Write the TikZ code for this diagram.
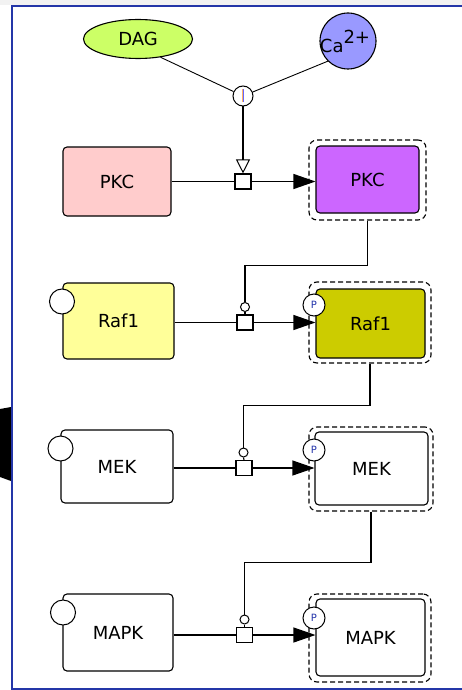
\documentclass[tikz,border=0pt]{standalone}
\usepackage{fontspec}
\setmainfont{DejaVu Sans}
\usetikzlibrary{arrows.meta,shapes.geometric}

\definecolor{dagfill}{HTML}{CCFF66}
\definecolor{cafill}{HTML}{9999FF}
\definecolor{pkcfill}{HTML}{FFCCCC}
\definecolor{pkcactive}{HTML}{CC66FF}
\definecolor{raffill}{HTML}{FFFF99}
\definecolor{rafactive}{HTML}{CCCC00}
\definecolor{frameblue}{HTML}{2436A8}
\definecolor{pblue}{HTML}{2233AA}

\tikzset{
  species/.style={draw, line width=1.1pt, rounded corners=4pt, inner sep=0pt},
  complexframe/.style={draw, line width=1.1pt, dash pattern=on 5pt off 3pt, rounded corners=8pt, inner sep=0pt},
  statevar/.style={circle, draw, fill=white, line width=1pt, minimum size=25pt, inner sep=0pt},
  pstate/.style={circle, draw, fill=white, line width=1pt, minimum size=22pt, inner sep=0pt,
                 font=\fontsize{10}{10}\selectfont, text=pblue},
  process/.style={draw, fill=white, line width=1.1pt, minimum width=16pt, minimum height=15pt, inner sep=0pt},
  catal/.style={circle, draw, fill=white, line width=1pt, minimum size=9pt, inner sep=0pt},
  link/.style={line width=1.1pt},
  conv/.style={link, -{Triangle[length=22pt,width=15pt]}},
  stim/.style={link, -{Triangle[open,length=14pt,width=14pt,line width=1pt]}},
}

\begin{document}
\begin{tikzpicture}[x=1pt, y=-1pt, font=\fontsize{18}{20}\selectfont]
\useasboundingbox (0,0) rectangle (462,690);

% window chrome
\fill[gray!10] (0,0) rectangle (462,5.5);
\fill[black] (0,409) -- (11,407) -- (11,481) -- (0,477) -- cycle;
\draw[frameblue, line width=2pt] (462,6.5) -- (11.5,6.5) -- (11.5,688.5) -- (462,688.5);

% ---- small molecules and association ----
\node[ellipse, draw, line width=1.1pt, fill=dagfill, minimum width=109pt, minimum height=39pt, inner sep=0pt]
  (dag) at (138,39) {DAG};
\node[circle, draw, line width=1.1pt, fill=cafill, minimum size=56pt, inner sep=0pt]
  (ca) at (348,41) {};
\node at (345,41) {Ca\raisebox{9pt}{2+}};
\node[circle, draw, fill=white, line width=1pt, minimum size=20pt, inner sep=0pt] (assoc) at (243,96) {};
\draw[orange!60, line width=0.5pt] ([xshift=-0.8pt,yshift=6.5pt]assoc.center) -- ([xshift=-0.8pt,yshift=-6.5pt]assoc.center);
\draw[blue!60, line width=0.5pt] ([xshift=0.4pt,yshift=6.5pt]assoc.center) -- ([xshift=0.4pt,yshift=-6.5pt]assoc.center);
\draw[link, line width=0.9pt] (dag.-39) -- (assoc);
\draw[link, line width=0.9pt] (ca.225) -- (assoc);

% ---- PKC ----
\node[species, fill=pkcfill, minimum width=108pt, minimum height=69pt] (pkc) at (117,181.5) {PKC};
\node[complexframe, minimum width=117pt, minimum height=80pt] (pkcPo) at (367.5,180) {};
\node[species, fill=pkcactive, minimum width=103pt, minimum height=67pt] (pkcP) at (367.5,179.5) {PKC};
\node[process] (proc1) at (243,181.5) {};
\draw[link] (pkc.east) -- (proc1.west);
\draw[conv] (proc1.east) -- (proc1.east -| pkcP.west);
\draw[stim] (assoc.south) -- (proc1.north);

% ---- Raf1 ----
\node[species, fill=raffill, minimum width=111pt, minimum height=76pt] (raf) at (118.5,321) {Raf1};
\node[statevar] (rafsv) at (62,301.5) {};
\node[complexframe, minimum width=122pt, minimum height=81pt] (rafPo) at (370,322.5) {};
\node[species, fill=rafactive, minimum width=109pt, minimum height=69pt] (rafP) at (370.5,323.5) {Raf1};
\node[pstate] (rafPs) at (314,305) {P};
\node[process] (proc2) at (245,322.5) {};
\node[catal] (cat2) at (245,307) {};
\draw[link] (raf.east |- proc2.west) -- (proc2.west);
\draw[conv] (proc2.east) -- (proc2.east -| rafP.west);
\draw[link] (pkcPo.south) -- ++(0,45) -| (cat2.north);
\draw[link] (cat2.south) -- (proc2.north);

% ---- MEK ----
\node[species, minimum width=112pt, minimum height=73pt] (mek) at (117,466.5) {MEK};
\node[statevar] (meksv) at (60.5,448.5) {};
\node[complexframe, minimum width=124pt, minimum height=84pt] (mekPo) at (371,469) {};
\node[species, minimum width=113pt, minimum height=73pt] (mekP) at (371.5,468.5) {MEK};
\node[pstate] (mekPs) at (314,450) {P};
\node[process] (proc3) at (244,468) {};
\node[catal] (cat3) at (243.5,452.5) {};
\draw[link] (mek.east |- proc3.west) -- (proc3.west);
\draw[conv] (proc3.east) -- (proc3.east -| mekP.west);
\draw[link] (rafPo.south) -- ++(0,42) -| (cat3.north);
\draw[link] (cat3.south) -- (proc3.north);

% ---- MAPK ----
\node[species, minimum width=110pt, minimum height=77pt] (mapk) at (118,632.5) {MAPK};
\node[statevar] (mapksv) at (63,612.5) {};
\node[complexframe, minimum width=122pt, minimum height=88pt] (mapkPo) at (370,638) {};
\node[species, minimum width=109pt, minimum height=77pt] (mapkP) at (370.5,637.5) {MAPK};
\node[pstate] (mapkPs) at (314,618) {P};
\node[process] (proc4) at (244.5,635) {};
\node[catal] (cat4) at (244.5,619.5) {};
\draw[link] (mapk.east |- proc4.west) -- (proc4.west);
\draw[conv] (proc4.east) -- (proc4.east -| mapkP.west);
\draw[link] (mekPo.south) -- ++(0,51) -| (cat4.north);
\draw[link] (cat4.south) -- (proc4.north);
\end{tikzpicture}
\end{document}
